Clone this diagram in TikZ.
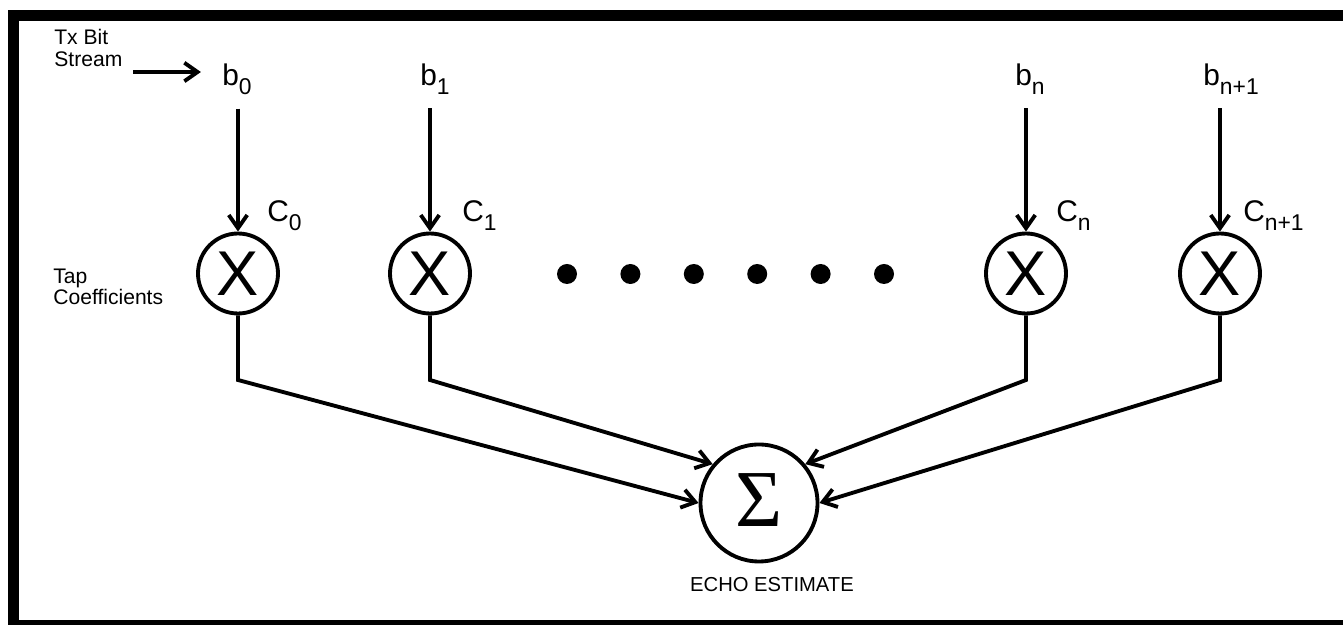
\documentclass[tikz,border=0pt]{standalone}
\usepackage{fontspec}
\setmainfont{Liberation Sans}
\newfontfamily\serifsym{Liberation Serif}
\usetikzlibrary{
    positioning,
    arrows.meta
}
% lowered index for the bit and tap labels
\newcommand{\lowidx}[1]{\raisebox{-0.27em}{\fontsize{13}{13}\selectfont #1}}

\begin{document}
\begin{tikzpicture}[
    mult/.style={circle, draw, line width=2.2pt, minimum size=1.6cm, inner sep=0pt,
                 font=\fontsize{36}{36}\selectfont},
    lbl/.style={anchor=base west, inner sep=0pt, font=\fontsize{17}{20}\selectfont},
    note/.style={anchor=base west, inner sep=0pt, align=left,
                 font=\fontsize{12}{12.4}\selectfont},
    dot/.style={circle, fill=black, minimum size=0.4cm, inner sep=0pt},
    arrow/.style={->, >={Straight Barb[length=7.5pt,width=10.5pt]}, line width=2.2pt}
]
\useasboundingbox (0,0) rectangle (26.86,12.5);
\clip (0,0) rectangle (26.86,12.5);

% Frame (cut at right and bottom)
\draw[line width=6.3pt] (0.27,12.19) rectangle (27.2,-0.01);

% Side notes
\node[note] (txbit) at (1.08,11.17) {Tx Bit\\Stream};
\node[note] (tap) at (1.06,6.4) {Tap\\Coefficients};

% Summer
\node[mult, minimum size=2.34cm, font=\fontsize{46}{46}\selectfont\serifsym] (sum) at (15.18,2.44) {\raisebox{0.12cm}{Σ}};
\node[font=\fontsize{11.5}{13}\selectfont] (echo) at (15.44,0.8) {ECHO ESTIMATE};

\coordinate (kink) at (0,4.9);
\coordinate (txin) at (2.66,11.06);

% Taps
\foreach \i/\x/\bl/\cl/\t/\ang in {0/4.76/4.44/5.34/0/180, 1/8.6/8.40/9.24/1/140,
                                   n/20.52/20.30/21.12/n/40, m/24.4/24.06/24.86/n+1/0} {
    \node[mult] (mul\i) at (\x,7.03) {X};
    \node[lbl] (b\i) at (\bl,10.78) {b\lowidx{\t}};
    \node[lbl] (c\i) at (\cl,8.06) {C\lowidx{\t}};
    \draw[arrow, shorten <=8pt] (b\i.south -| mul\i) -- (mul\i);
    \draw[arrow, line join=miter] (mul\i) -- (mul\i |- kink) -- (sum.\ang);
}

\draw[arrow, shorten >=12pt] (txin) -- (txin -| b0.west);

% Dots between taps
\foreach \k in {0,...,5} {
    \node[dot] (dot\k) at (11.34+1.268*\k,7.02) {};
}

\end{tikzpicture}
\end{document}
